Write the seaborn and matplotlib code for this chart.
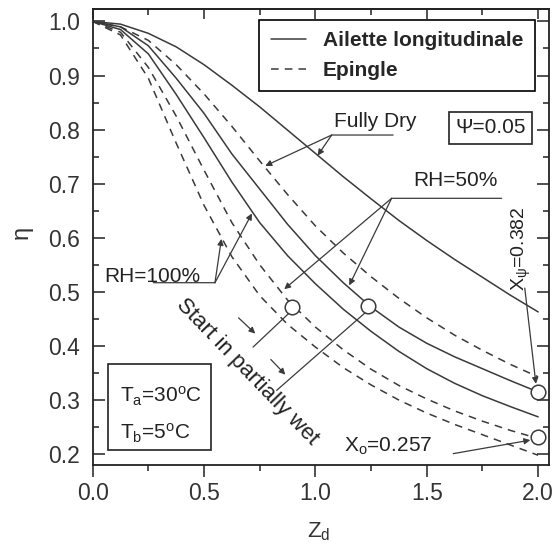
import numpy as np
import pandas as pd
import matplotlib
matplotlib.use("Agg")
import matplotlib.pyplot as plt
import seaborn as sns
from matplotlib.lines import Line2D
from matplotlib.patches import Rectangle
from matplotlib.ticker import MultipleLocator

# ---------------- data ----------------
z = [0.0, 0.125, 0.25, 0.375, 0.5, 0.625, 0.75, 0.875, 1.0,
     1.125, 1.25, 1.375, 1.5, 1.625, 1.75, 1.875, 2.0]

eta_ailette_dry = [1.0, 0.995, 0.978, 0.953, 0.92, 0.882, 0.842, 0.799, 0.756,
                   0.713, 0.672, 0.632, 0.595, 0.56, 0.527, 0.494, 0.463]
eta_ailette_rh50 = [1.0, 0.99, 0.955, 0.895, 0.83, 0.755, 0.69, 0.625, 0.567,
                    0.517, 0.472, 0.435, 0.405, 0.38, 0.358, 0.336, 0.315]
eta_ailette_rh100 = [1.0, 0.985, 0.94, 0.865, 0.785, 0.703, 0.628, 0.567, 0.515,
                     0.468, 0.427, 0.39, 0.358, 0.331, 0.308, 0.288, 0.269]
eta_epingle_dry = [1.0, 0.99, 0.965, 0.92, 0.866, 0.806, 0.742, 0.68, 0.622,
                   0.572, 0.528, 0.488, 0.452, 0.42, 0.392, 0.366, 0.343]
eta_epingle_rh50 = [1.0, 0.98, 0.915, 0.825, 0.725, 0.628, 0.55, 0.485, 0.435,
                    0.393, 0.357, 0.327, 0.302, 0.28, 0.261, 0.244, 0.229]
eta_epingle_rh100 = [1.0, 0.975, 0.895, 0.775, 0.66, 0.565, 0.493, 0.44, 0.398,
                     0.36, 0.328, 0.3, 0.276, 0.255, 0.236, 0.217, 0.198]

circle_z = [0.893, 1.237, 2.0, 2.0]
circle_eta = [0.473, 0.474, 0.315, 0.231]

fin_types = ["Ailette longitudinale", "Epingle"]
x_ticks = [0.0, 0.5, 1.0, 1.5, 2.0]
y_ticks = [0.2, 0.3, 0.4, 0.5, 0.6, 0.7, 0.8, 0.9, 1.0]

curves = {
    ("Ailette longitudinale", "Fully Dry"): eta_ailette_dry,
    ("Ailette longitudinale", "RH=50%"): eta_ailette_rh50,
    ("Ailette longitudinale", "RH=100%"): eta_ailette_rh100,
    ("Epingle", "Fully Dry"): eta_epingle_dry,
    ("Epingle", "RH=50%"): eta_epingle_rh50,
    ("Epingle", "RH=100%"): eta_epingle_rh100,
}
rows = []
for (ftype, cond), vals in curves.items():
    for zz, ee in zip(z, vals):
        rows.append({"Z": zz, "eta": ee, "type": ftype, "curve": ftype + " " + cond})
df = pd.DataFrame(rows)

# ---------------- style ----------------
sns.set_style("ticks")
plt.rcParams["font.family"] = ["Liberation Sans", "DejaVu Sans"]
plt.rcParams["mathtext.fontset"] = "custom"
plt.rcParams["mathtext.rm"] = "Liberation Sans"
plt.rcParams["mathtext.it"] = "Liberation Sans"
plt.rcParams["axes.linewidth"] = 1.3

LINE = "#3a3a3a"
FS = 15

fig = plt.figure(figsize=(5.59, 5.45), dpi=100)
ax = fig.add_axes([0.1658, 0.1468, 0.8168, 0.8367])

sns.lineplot(data=df, x="Z", y="eta", units="curve", style="type",
             estimator=None, sort=False, color=LINE, lw=1.1,
             dashes={"Ailette longitudinale": "", "Epingle": (5, 4)},
             legend=False, ax=ax)

ax.plot(circle_z, circle_eta, linestyle="none", marker="o", ms=10.5,
        mfc="white", mec=LINE, mew=1.1, zorder=5)

ax.set_xlim(0, 2.05)
ax.set_ylim(0.18, 1.023)
ax.set_xticks(x_ticks)
ax.set_yticks(y_ticks)
ax.set_xticklabels([f"{v:.1f}" for v in x_ticks])
ax.set_yticklabels([f"{v:.1f}" for v in y_ticks])
ax.xaxis.set_minor_locator(MultipleLocator(0.25))
ax.yaxis.set_minor_locator(MultipleLocator(0.05))
ax.tick_params(axis="x", which="major", direction="out", length=8.5, width=1.1,
               labelsize=16.5, pad=3.5, color="#222222", labelcolor="#333333")
ax.tick_params(axis="x", which="minor", direction="out", length=4.5, width=1.1,
               color="#222222")
ax.tick_params(axis="y", which="major", direction="in", length=8.5, width=1.1,
               right=True, labelsize=16.5, pad=9, color="#222222", labelcolor="#333333")
ax.tick_params(axis="y", which="minor", direction="in", length=4.5, width=1.1,
               right=True, color="#222222")
sec = ax.secondary_xaxis("top")
sec.set_xticks(x_ticks)
sec.xaxis.set_minor_locator(MultipleLocator(0.25))
sec.tick_params(axis="x", which="major", direction="in", length=7, width=1.1,
                labeltop=False, color="#222222")
sec.tick_params(axis="x", which="minor", direction="in", length=4, width=1.1,
                color="#222222")
for sp in ax.spines.values():
    sp.set_color("#222222")

ax.set_xlabel(r"Z$_\mathregular{d}$", fontsize=16, va="center", color="#333333")
ax.xaxis.set_label_coords(0.496, -0.147)
ax.set_ylabel("η", fontsize=17, rotation=90, va="center", color="#333333")
ax.yaxis.set_label_coords(-0.155, 0.509)

# legend
handles = [Line2D([], [], color=LINE, lw=1.1, ls="-"),
           Line2D([], [], color=LINE, lw=1.1, ls=(0, (5, 4)))]
leg = ax.legend(handles, fin_types, loc="upper right",
                bbox_to_anchor=(0.968, 0.976), borderaxespad=0,
                frameon=True, fancybox=False, edgecolor="black",
                framealpha=1, handlelength=1.7, handletextpad=0.8,
                borderpad=0.55, labelspacing=0.5,
                prop={"family": "Liberation Sans", "weight": "bold", "size": FS})
leg.get_frame().set_linewidth(1.2)


def leader(p_from, p_to, head=True):
    ax.annotate("", xy=p_to, xytext=p_from,
                arrowprops=dict(arrowstyle="-|>" if head else "-", color=LINE,
                                lw=0.9, shrinkA=0, shrinkB=0,
                                mutation_scale=9))


# Fully Dry
ax.text(1.267, 0.815, "Fully Dry", fontsize=FS, ha="center", va="center", color="#222222")
leader((1.073, 0.79), (1.349, 0.79), head=False)
leader((1.073, 0.79), (1.01, 0.752))
leader((1.073, 0.79), (0.775, 0.733))

# RH=50%
ax.text(1.627, 0.706, "RH=50%", fontsize=FS, ha="center", va="center", color="#222222")
leader((1.342, 0.673), (1.836, 0.673), head=False)
leader((1.342, 0.673), (1.152, 0.512))
leader((1.342, 0.673), (0.86, 0.505))

# RH=100%
ax.text(0.267, 0.529, "RH=100%", fontsize=FS, ha="center", va="center", color="#222222")
leader((0.272, 0.517), (0.549, 0.517), head=False)
leader((0.549, 0.517), (0.715, 0.645))
leader((0.549, 0.517), (0.578, 0.598))

# Start in partially wet
ax.text(0.695, 0.353, "Start in partially wet", fontsize=16, rotation=-46,
        ha="center", va="center", rotation_mode="anchor", color="#222222")
leader((0.885, 0.462), (0.72, 0.398), head=False)
leader((1.225, 0.462), (0.826, 0.318), head=False)
leader((0.655, 0.452), (0.73, 0.423))
leader((0.8, 0.375), (0.865, 0.347))

# Psi box
ax.text(1.785, 0.803, "Ψ=0.05", fontsize=FS, ha="center", va="center",
        color="#222222",
        bbox=dict(boxstyle="square,pad=0.3", fc="white", ec="#222222", lw=1.2))

# Temperatures box
ax.add_patch(Rectangle((0.07, 0.207), 0.46, 0.159, fill=False, ec="#222222", lw=1.2))
ax.text(0.123, 0.306, r"T$_\mathregular{a}$=30$^\mathregular{o}$C", fontsize=FS,
        ha="left", va="center", color="#222222")
ax.text(0.123, 0.238, r"T$_\mathregular{b}$=5$^\mathregular{o}$C", fontsize=FS,
        ha="left", va="center", color="#222222")

# X_psi and X_0
ax.text(1.925, 0.58, r"X$_\mathregular{\psi}$=0.382", fontsize=14, rotation=90,
        ha="center", va="center", color="#222222")
leader((1.94, 0.507), (1.99, 0.33))
ax.text(1.325, 0.214, r"X$_\mathregular{o}$=0.257", fontsize=FS,
        ha="center", va="center", color="#222222")
leader((1.619, 0.201), (1.965, 0.226))

fig.savefig("out.png", dpi=100)
